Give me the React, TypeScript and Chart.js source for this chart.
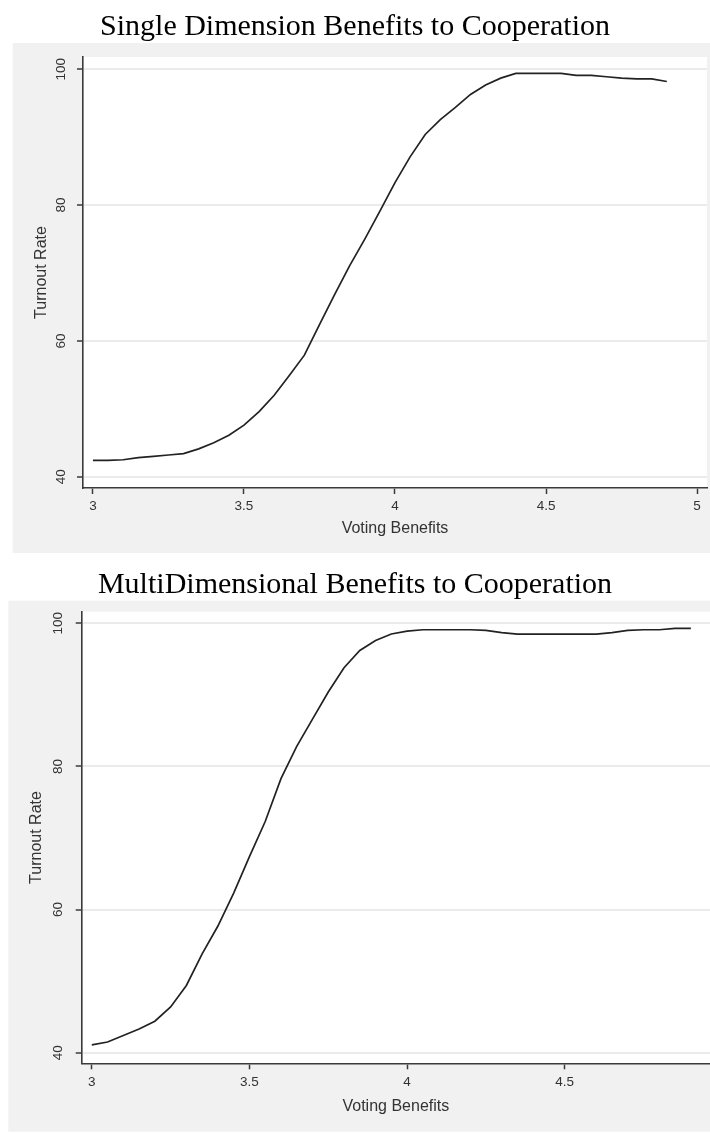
import React, { useEffect, useRef } from "react";
import { Chart, registerables } from "chart.js";

Chart.register(...registerables);

// Voting benefit levels (x) and simulated turnout (%) for each model
const BENEFITS_SINGLE = [
  3.0, 3.05, 3.1, 3.15, 3.2, 3.25, 3.3, 3.35, 3.4, 3.45, 3.5, 3.55, 3.6, 3.65,
  3.7, 3.75, 3.8, 3.85, 3.9, 3.95, 4.0, 4.05, 4.1, 4.15, 4.2, 4.25, 4.3, 4.35,
  4.4, 4.45, 4.5, 4.55, 4.6, 4.65, 4.7, 4.75, 4.8, 4.85, 4.9,
];
const TURNOUT_SINGLE = [
  42.4, 42.4, 42.5, 42.8, 43.0, 43.2, 43.4, 44.1, 45.0, 46.1, 47.6, 49.6, 52.0,
  54.9, 57.9, 62.4, 66.8, 71.1, 75.0, 79.1, 83.3, 87.1, 90.4, 92.6, 94.4, 96.3,
  97.7, 98.7, 99.4, 99.4, 99.4, 99.4, 99.1, 99.1, 98.9, 98.7, 98.6, 98.6, 98.2,
];

const BENEFITS_MULTI = [
  3.0, 3.05, 3.1, 3.15, 3.2, 3.25, 3.3, 3.35, 3.4, 3.45, 3.5, 3.55, 3.6, 3.65,
  3.7, 3.75, 3.8, 3.85, 3.9, 3.95, 4.0, 4.05, 4.1, 4.15, 4.2, 4.25, 4.3, 4.35,
  4.4, 4.45, 4.5, 4.55, 4.6, 4.65, 4.7, 4.75, 4.8, 4.85, 4.9,
];
const TURNOUT_MULTI = [
  41.1, 41.5, 42.4, 43.3, 44.4, 46.4, 49.4, 53.8, 57.7, 62.3, 67.4, 72.3, 78.3,
  82.8, 86.6, 90.4, 93.8, 96.2, 97.6, 98.5, 98.9, 99.1, 99.1, 99.1, 99.1, 99.0,
  98.7, 98.5, 98.5, 98.5, 98.5, 98.5, 98.5, 98.7, 99.0, 99.1, 99.1, 99.3, 99.3,
];

// Axis ticks and their labels
const X_TICKS_SINGLE = [3, 3.5, 4, 4.5, 5];
const X_LABELS_SINGLE = ["3", "3.5", "4", "4.5", "5"];
const X_TICKS_MULTI = [3, 3.5, 4, 4.5];
const X_LABELS_MULTI = ["3", "3.5", "4", "4.5"];
const Y_TICKS = [40, 60, 80, 100];
const Y_LABELS = ["40", "60", "80", "100"];

const TITLE_SINGLE = "Single Dimension Benefits to Cooperation";
const TITLE_MULTI = "MultiDimensional Benefits to Cooperation";
const X_TITLE = "Voting Benefits";
const Y_TITLE = "Turnout Rate";

const SANS = "'Liberation Sans', Arial, sans-serif";
const SERIF = "'Liberation Serif', 'Times New Roman', serif";
const INK = "#333333";
const AXIS = "#3a3a3a";
const REGION = "#f1f1f1";
const GRID = "#ebebeb";

// Paints the page, the grey graph region, the white plot region and the title
const panelBackground = {
  id: "panelBackground",
  beforeDraw(chart: any, _args: any, opts: any) {
    const { ctx, chartArea, width, height } = chart;
    ctx.save();
    ctx.fillStyle = "#ffffff";
    ctx.fillRect(0, 0, width, height);
    ctx.fillStyle = REGION;
    ctx.fillRect(opts.box.x, opts.box.y, opts.box.w, opts.box.h);
    ctx.fillStyle = "#ffffff";
    ctx.fillRect(
      chartArea.left,
      chartArea.top,
      chartArea.right - chartArea.left,
      chartArea.bottom - chartArea.top
    );
    ctx.fillStyle = "#000000";
    ctx.font = `30px ${SERIF}`;
    ctx.textAlign = "center";
    ctx.textBaseline = "alphabetic";
    ctx.fillText(opts.title, width / 2, opts.titleY);
    ctx.restore();
  },
};

type PanelSpec = {
  title: string;
  xs: number[];
  ys: number[];
  xTicks: number[];
  xLabels: string[];
  height: number;
  top: number;
  titleY: number;
  box: { x: number; y: number; w: number; h: number };
  padding: { left: number; top: number; right: number; bottom: number };
  yAxisWidth: number;
  xMin: number;
  xMax: number;
  yMin: number;
  yMax: number;
  yLabelPad: number;
  yTitlePad: number;
  xLabelPad: number;
  xTitlePad: number;
};

const PANELS: PanelSpec[] = [
  {
    title: TITLE_SINGLE,
    xs: BENEFITS_SINGLE,
    ys: TURNOUT_SINGLE,
    xTicks: X_TICKS_SINGLE,
    xLabels: X_LABELS_SINGLE,
    height: 553,
    top: 0,
    titleY: 35,
    box: { x: 12.7, y: 43, w: 700, h: 510 },
    padding: { left: 12.7, top: 57, right: 3, bottom: 10 },
    yAxisWidth: 70.3,
    xMin: 2.967,
    xMax: 5.033,
    yMin: 38.34,
    yMax: 101.81,
    yLabelPad: 4,
    yTitlePad: 19,
    xLabelPad: 4,
    xTitlePad: 4.4,
  },
  {
    title: TITLE_MULTI,
    xs: BENEFITS_MULTI,
    ys: TURNOUT_MULTI,
    xTicks: X_TICKS_MULTI,
    xLabels: X_LABELS_MULTI,
    height: 580,
    top: 553,
    titleY: 40,
    box: { x: 8.3, y: 47.7, w: 705, h: 531 },
    padding: { left: 8.3, top: 58.7, right: 0, bottom: 14.7 },
    yAxisWidth: 73.4,
    xMin: 2.968,
    xMax: 4.9607,
    yMin: 38.52,
    yMax: 101.62,
    yLabelPad: 6.5,
    yTitlePad: 19,
    xLabelPad: 5,
    xTitlePad: 2.5,
  },
];

function Panel({ spec }: { spec: PanelSpec }) {
  const ref = useRef<HTMLCanvasElement>(null);

  useEffect(() => {
    if (!ref.current) return;
    const chart = new Chart(ref.current, {
      type: "line",
      data: {
        datasets: [
          {
            data: spec.xs.map((x, i) => ({ x, y: spec.ys[i] })),
            borderColor: "#222222",
            borderWidth: 1.7,
            pointRadius: 0,
            tension: 0,
            fill: false,
          },
        ],
      },
      options: {
        animation: false,
        responsive: false,
        events: [],
        layout: { padding: spec.padding },
        plugins: {
          legend: { display: false },
          tooltip: { enabled: false },
          title: { display: false },
          panelBackground: { box: spec.box, title: spec.title, titleY: spec.titleY },
        } as any,
        scales: {
          x: {
            type: "linear",
            min: spec.xMin,
            max: spec.xMax,
            afterBuildTicks: (s: any) => {
              s.ticks = spec.xTicks.map((v) => ({ value: v }));
            },
            afterFit: (s: any) => {
              s.height = 55;
            },
            grid: {
              drawOnChartArea: false,
              drawTicks: true,
              tickLength: 6,
              tickColor: AXIS,
              tickWidth: 1.5,
            },
            border: { display: true, color: AXIS, width: 1.6 },
            ticks: {
              autoSkip: false,
              maxRotation: 0,
              minRotation: 0,
              padding: spec.xLabelPad,
              color: INK,
              font: { family: SANS, size: 13.5 },
              callback: (v: any) => spec.xLabels[spec.xTicks.indexOf(Number(v))] ?? "",
            },
            title: {
              display: true,
              text: X_TITLE,
              color: INK,
              font: { family: SANS, size: 16 },
              padding: { top: 0, bottom: spec.xTitlePad },
            },
          },
          y: {
            type: "linear",
            min: spec.yMin,
            max: spec.yMax,
            afterBuildTicks: (s: any) => {
              s.ticks = Y_TICKS.map((v) => ({ value: v }));
            },
            afterFit: (s: any) => {
              s.width = spec.yAxisWidth;
            },
            grid: {
              drawOnChartArea: true,
              drawTicks: true,
              color: GRID,
              lineWidth: 2,
              tickLength: 6,
              tickColor: AXIS,
              tickWidth: 1.5,
            },
            border: { display: true, color: AXIS, width: 1.6 },
            ticks: {
              autoSkip: false,
              minRotation: 90,
              maxRotation: 90,
              crossAlign: "center",
              padding: spec.yLabelPad,
              color: INK,
              font: { family: SANS, size: 13.5 },
              callback: (v: any) => Y_LABELS[Y_TICKS.indexOf(Number(v))] ?? "",
            },
            title: {
              display: true,
              text: Y_TITLE,
              color: INK,
              font: { family: SANS, size: 16 },
              padding: { top: spec.yTitlePad, bottom: 0 },
            },
          },
        },
      } as any,
      plugins: [panelBackground],
    });
    return () => chart.destroy();
  }, [spec]);

  return (
    <canvas
      ref={ref}
      width={710}
      height={spec.height}
      style={{ position: "absolute", left: 0, top: spec.top, display: "block" }}
    />
  );
}

export default function App() {
  return (
    <div
      style={{
        position: "absolute",
        left: 0,
        top: 0,
        width: 710,
        height: 1133,
        background: "#ffffff",
        overflow: "hidden",
      }}
    >
      {PANELS.map((p) => (
        <Panel key={p.title} spec={p} />
      ))}
    </div>
  );
}
